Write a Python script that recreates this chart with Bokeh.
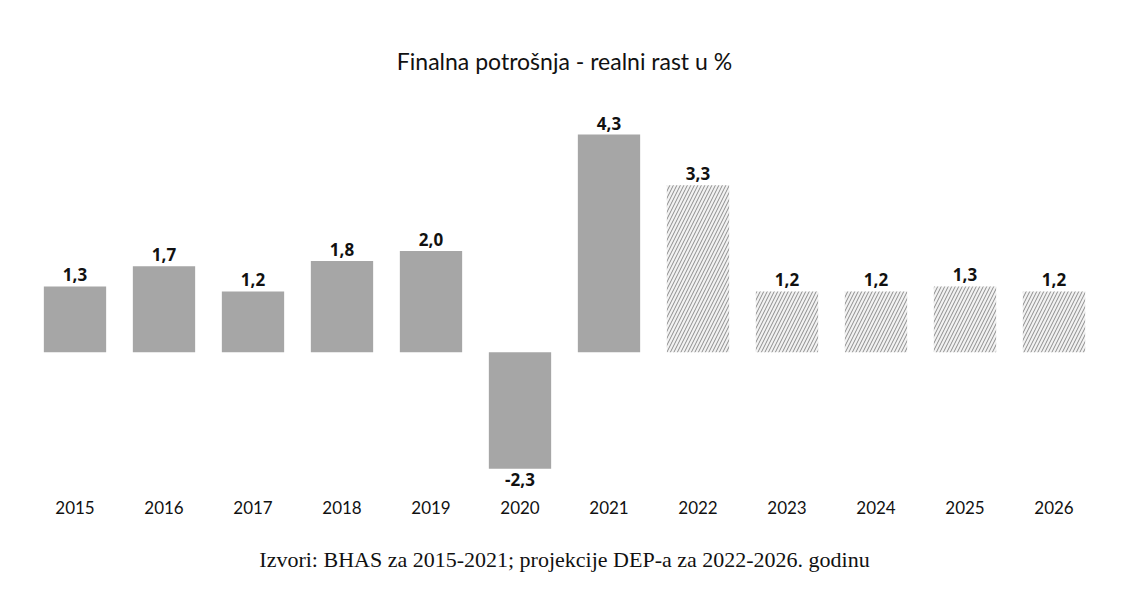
from bokeh.plotting import figure
from bokeh.models import ColumnDataSource, LabelSet
from bokeh.core.properties import value
from bokeh.embed import file_html
from bokeh.resources import INLINE

years = ["2015", "2016", "2017", "2018", "2019", "2020",
         "2021", "2022", "2023", "2024", "2025", "2026"]
growth = [1.3, 1.7, 1.2, 1.8, 2.0, -2.3, 4.3, 3.3, 1.2, 1.2, 1.3, 1.2]
labels = ["1,3", "1,7", "1,2", "1,8", "2,0", "-2,3", "4,3", "3,3", "1,2", "1,2", "1,3", "1,2"]
projection = [False] * 7 + [True] * 5
title_text = "Finalna potrošnja - realni rast u %"
source_text = "Izvori: BHAS za 2015-2021; projekcije DEP-a za 2022-2026. godinu"

pos_h = {"x": [], "top": [], "lab": []}
pos_p = {"x": [], "top": [], "lab": []}
neg = {"x": [], "top": [], "lab": []}
for y, g, l, pr in zip(years, growth, labels, projection):
    d = neg if g < 0 else (pos_p if pr else pos_h)
    d["x"].append(y)
    d["top"].append(g)
    d["lab"].append(l)

src_h = ColumnDataSource(pos_h)
src_p = ColumnDataSource(pos_p)
src_n = ColumnDataSource(neg)

p = figure(x_range=years, y_range=(-2.87, 5.13), width=1124, height=574,
           output_backend="svg", toolbar_location=None,
           min_border_left=30, min_border_right=26, min_border_top=92,
           min_border_bottom=70, outline_line_color=None)

p.title.text = title_text
p.title.align = "center"
p.title.text_font = "Lato"
p.title.text_font_size = "23px"
p.title.text_font_style = "normal"
p.title.text_color = "#111111"
p.title.standoff = 36

bar_w = 0.7
p.vbar(x="x", top="top", bottom=0, width=bar_w, source=src_h,
       fill_color="#a6a6a6", line_color=None)
p.vbar(x="x", top="top", bottom=0, width=bar_w, source=src_n,
       fill_color="#a6a6a6", line_color=None)
p.vbar(x="x", top="top", bottom=0, width=bar_w, source=src_p,
       fill_color="#f2f2f2", line_color=None,
       hatch_pattern="right_diagonal_line", hatch_color="#8c8c8c",
       hatch_scale=7, hatch_weight=1)

lab_font = value("Open Sans")
for src in (src_h, src_p):
    p.add_layout(LabelSet(x="x", y="top", text="lab", source=src,
                          text_align="center", text_baseline="bottom",
                          y_offset=5, text_font=lab_font,
                          text_font_style="bold", text_font_size="17px",
                          text_color="#111111"))
p.add_layout(LabelSet(x="x", y="top", text="lab", source=src_n,
                      text_align="center", text_baseline="top", y_offset=-4,
                      text_font=lab_font, text_font_style="bold",
                      text_font_size="17px", text_color="#111111"))

p.yaxis.visible = False
ax = p.xaxis[0]
ax.axis_line_color = None
ax.major_tick_line_color = None
ax.minor_tick_line_color = None
ax.major_tick_out = 0
ax.major_tick_in = 0
ax.major_label_standoff = 3
ax.major_label_text_font = "Lato"
ax.major_label_text_font_size = "17px"
ax.major_label_text_color = "#111111"
ax.axis_label = source_text
ax.axis_label_text_font = "Liberation Serif"
ax.axis_label_text_font_size = "22px"
ax.axis_label_text_font_style = "normal"
ax.axis_label_text_color = "#111111"
ax.axis_label_standoff = 30
p.xgrid.grid_line_color = None
p.ygrid.grid_line_color = None

open("out.html", "w").write(file_html(p, INLINE))
